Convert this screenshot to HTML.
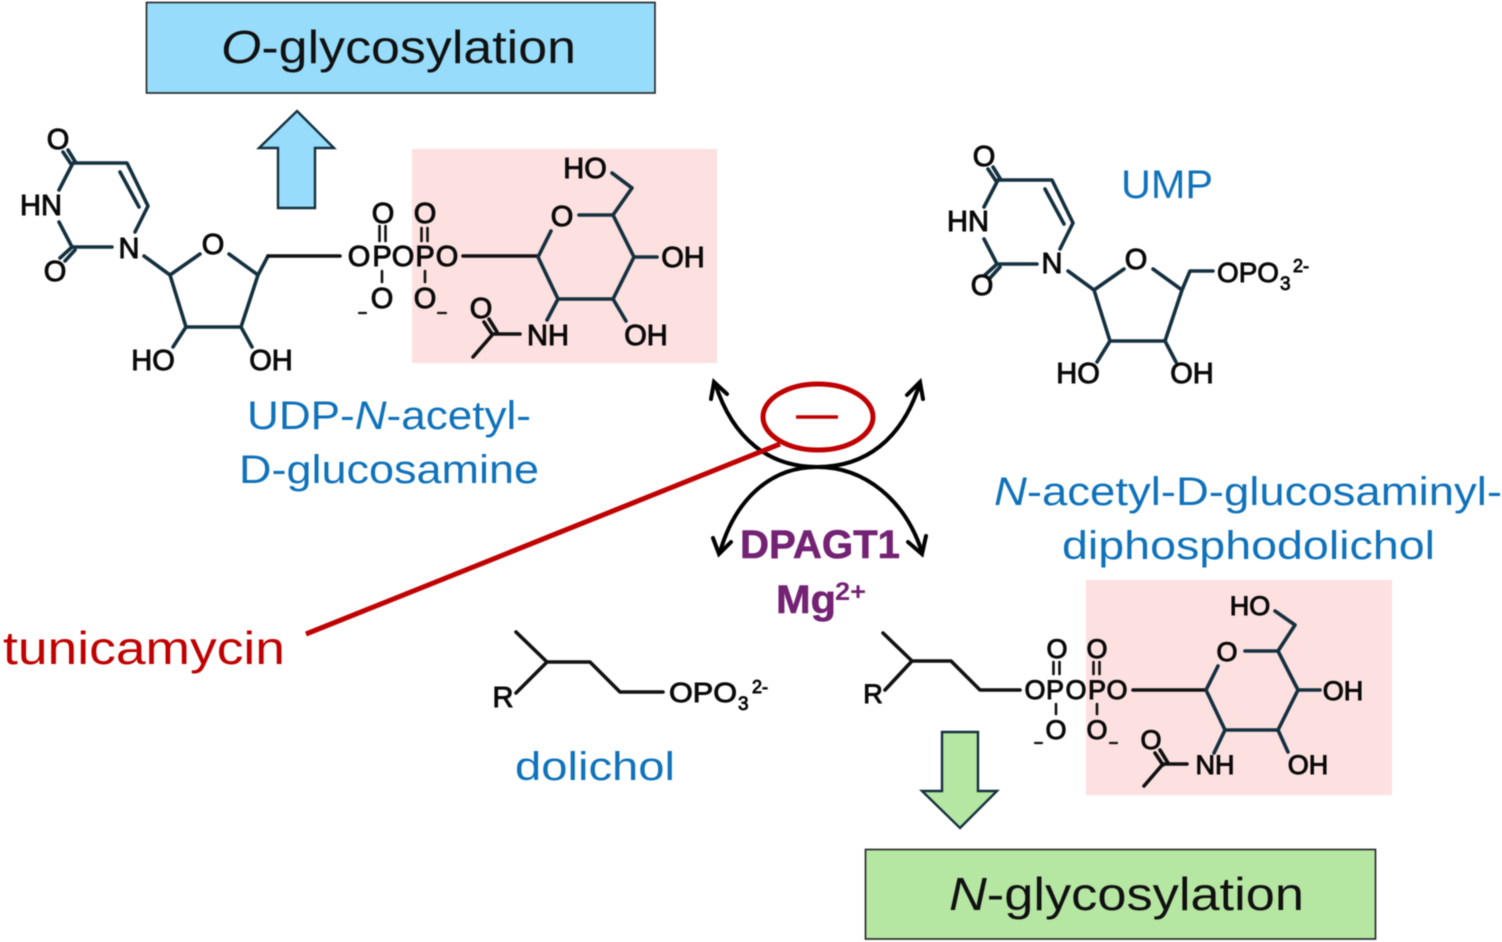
<!DOCTYPE html>
<html>
<head>
<meta charset="utf-8">
<style>
html,body{margin:0;padding:0;background:#fff;width:1502px;height:942px;overflow:hidden}
svg{display:block;filter:blur(.45px)}
text{font-family:"Liberation Sans",sans-serif}
.b{fill:none;stroke:#14303f;stroke-width:3.6;stroke-linecap:round;stroke-linejoin:round}
.k{fill:none;stroke:#111;stroke-width:3.6;stroke-linecap:round;stroke-linejoin:round}
.a{fill:#0a0a0a;stroke:#0a0a0a;stroke-width:1;font-size:29px;text-anchor:middle}
.s{fill:#0a0a0a;stroke:#0a0a0a;stroke-width:.9;font-size:28px}
.l{fill:#0f72ba;font-size:40px}
.t{fill:#111;font-size:46px}
</style>
</head>
<body>
<svg width="1502" height="942" viewBox="0 0 1502 942" xmlns="http://www.w3.org/2000/svg">
<rect x="412" y="149" width="305" height="214" fill="#fde0e0"/>
<rect x="1086" y="580" width="306" height="215" fill="#fde0e0"/>

<rect x="146.500" y="2.500" width="508.500" height="90.500" fill="#97dcfb" stroke="#222" stroke-width="1.600"/>
<text class="t" x="221" y="63" textLength="355" lengthAdjust="spacingAndGlyphs"><tspan font-style="italic">O</tspan>-glycosylation</text>
<rect x="865.500" y="849.500" width="510" height="89.500" fill="#b5e6a2" stroke="#222" stroke-width="1.600"/>
<text class="t" x="949" y="910" textLength="355" lengthAdjust="spacingAndGlyphs"><tspan font-style="italic">N</tspan>-glycosylation</text>

<polygon points="297,111 334,148 315,148 315,208 278,208 278,148 259,148" fill="#97dcfb" stroke="#14303f" stroke-width="2.400" stroke-linejoin="miter"/>
<polygon points="960,828 997,791 978,791 978,732 942,732 942,791 922,791" fill="#b5e6a2" stroke="#14303f" stroke-width="2.400" stroke-linejoin="miter"/>

<!-- UDP-GlcNAc uracil -->
<path class="b" d="M59 190L73 163H127L148 206L135 232M120 172L139 207M112 247H72L59 222M63 152L71 164M68 150L76 163M72 247L60 258M75 250L65 261"/>
<text class="a" x="58" y="149">O</text>
<text class="a" x="41" y="215">HN</text>
<text class="a" x="129" y="258">N</text>
<text class="a" x="55" y="281">O</text>
<!-- ribose -->
<path class="b" d="M144 256L170 275L200 254M229 254L258 275L241 327H186L170 275M186 327L173 347M241 327L252 347M258 275L268 256"/>
<path class="k" d="M268 256H340"/>
<text class="a" x="213" y="254">O</text>
<text class="a" x="153" y="370">HO</text>
<text class="a" x="271" y="370">OH</text>
<!-- diphosphate -->
<text class="a" x="359" y="266">O</text>
<text class="a" x="382" y="266">P</text>
<text class="a" x="403" y="266">O</text>
<text class="a" x="425" y="266">P</text>
<text class="a" x="447" y="266">O</text>
<text class="a" x="383" y="223">O</text>
<text class="a" x="425" y="223">O</text>
<text class="a" x="382" y="308">O</text>
<text class="a" x="425" y="308">O</text>
<path class="k" d="M379.500 226V241M385.500 226V241M421.500 228V241M427.500 228V241M382 271V282M425 271V282" style="stroke-width:2.600"/>
<path class="k" style="stroke-width:2.200" d="M359 313H366M438 313H446"/>
<!-- GlcNAc top -->
<path class="k" d="M463 256H538"/>
<path class="b" d="M538 257L551 231M579 215H613L634 257L613 299H558L538 257M613 215L632 188L612 173M634 257H657M613 299L626 321M558 299L547 320"/>
<path class="k" d="M520 334H493L473 357M484 322L492 334M489 319L497 332"/>
<text class="a" x="562" y="226">O</text>
<text class="a" x="585" y="178">HO</text>
<text class="a" x="683" y="267">OH</text>
<text class="a" x="646" y="345">OH</text>
<text class="a" x="548" y="345">NH</text>
<text class="a" x="481" y="318">O</text>

<!-- UMP -->
<g transform="translate(925,17)">
<path class="b" d="M59 190L73 163H127L148 206L135 232M120 172L139 207M112 247H72L59 222M63 152L71 164M68 150L76 163M72 247L60 258M75 250L65 261"/>
<text class="a" x="59" y="149">O</text>
<text class="a" x="43" y="214">HN</text>
<text class="a" x="127" y="256">N</text>
<text class="a" x="57" y="278">O</text>
</g>
<g transform="translate(924,15)">
<path class="b" d="M144 256L170 275L200 254M229 254L258 275L241 326H186L170 275M186 326L173 347M241 326L252 347M258 275L266 256H289"/>
<text class="a" x="212" y="254">O</text>
<text class="a" x="154" y="368">HO</text>
<text class="a" x="268" y="368">OH</text>
</g>
<text class="s" x="1217" y="282" textLength="62" lengthAdjust="spacingAndGlyphs">OPO</text>
<text class="s" x="1280" y="290" style="font-size:19px">3</text>
<text class="s" x="1293" y="272" style="font-size:18px">2-</text>
<text class="l" x="1121" y="198" textLength="92" lengthAdjust="spacingAndGlyphs">UMP</text>

<!-- Labels -->
<text class="l" x="247" y="429" textLength="284" lengthAdjust="spacingAndGlyphs">UDP-<tspan font-style="italic">N</tspan>-acetyl-</text>
<text class="l" x="239" y="483" textLength="300" lengthAdjust="spacingAndGlyphs">D-glucosamine</text>
<text class="l" x="994" y="505" textLength="508" lengthAdjust="spacingAndGlyphs"><tspan font-style="italic">N</tspan>-acetyl-D-glucosaminyl-</text>
<text class="l" x="1062" y="559" textLength="373" lengthAdjust="spacingAndGlyphs">diphosphodolichol</text>
<text class="l" x="515" y="780" textLength="160" lengthAdjust="spacingAndGlyphs">dolichol</text>
<text x="3" y="664" fill="#c00000" font-size="46" textLength="282" lengthAdjust="spacingAndGlyphs">tunicamycin</text>

<!-- Enzyme crossing arcs -->
<path d="M715 383C733 440 770 467 817 467C865 467 902 440 920 383" fill="none" stroke="#000" stroke-width="4"/>
<path d="M720 552C735 500 770 467 817 467C865 467 905 500 922 552" fill="none" stroke="#000" stroke-width="4"/>
<path d="M711 399L714 382L727 394M907 395L920 382L923 399M713 538L719 554L731 542M908 542L922 554L926 536" fill="none" stroke="#000" stroke-width="4" stroke-linecap="round" stroke-linejoin="miter"/>

<!-- Inhibition -->
<line x1="306" y1="634" x2="780" y2="444" stroke="#c00000" stroke-width="5"/>
<ellipse cx="818" cy="417" rx="55" ry="33" fill="none" stroke="#c00000" stroke-width="5"/>
<line x1="796" y1="417" x2="838" y2="417" stroke="#c00000" stroke-width="3.600"/>

<text x="740" y="558" fill="#742274" stroke="#742274" stroke-width=".6" font-size="40" font-weight="bold" textLength="160" lengthAdjust="spacingAndGlyphs">DPAGT1</text>
<text x="776" y="613" fill="#742274" stroke="#742274" stroke-width=".6" font-size="40" font-weight="bold" textLength="60" lengthAdjust="spacingAndGlyphs">Mg</text>
<text x="835" y="600" fill="#742274" font-size="25" font-weight="bold" textLength="31" lengthAdjust="spacingAndGlyphs">2+</text>

<!-- dolichol phosphate -->
<path class="k" d="M516 632L547 662M516 693L547 662H590L620 692H663"/>
<text class="a" x="503" y="707">R</text>
<text class="s" x="669" y="702" textLength="68" lengthAdjust="spacingAndGlyphs">OPO</text>
<text class="s" x="738" y="710" style="font-size:19px">3</text>
<text class="s" x="752" y="693" style="font-size:18px">2-</text>

<!-- bottom right conjugate -->
<path class="k" d="M883 633L912 661M885 690L912 661H951L980 690H1020"/>
<text class="a" x="873" y="703" style="font-size:27px">R</text>
<text class="a" x="1035" y="699" style="font-size:27px">O</text>
<text class="a" x="1055" y="699" style="font-size:27px">P</text>
<text class="a" x="1076" y="699" style="font-size:27px">O</text>
<text class="a" x="1097" y="699" style="font-size:27px">P</text>
<text class="a" x="1117" y="699" style="font-size:27px">O</text>
<text class="a" x="1057" y="658" style="font-size:27px">O</text>
<text class="a" x="1097" y="658" style="font-size:27px">O</text>
<text class="a" x="1056" y="739" style="font-size:27px">O</text>
<text class="a" x="1097" y="739" style="font-size:27px">O</text>
<path class="k" d="M1053.500 662V674M1059.500 662V674M1093.500 662V674M1099.500 662V674M1056 704V714M1097 704V714" style="stroke-width:2.600"/>
<path class="k" style="stroke-width:2.200" d="M1035 743H1042M1110 743H1117"/>
<path class="k" d="M1133 690H1206"/>
<path class="b" d="M1206 690L1218 666M1245 651H1278L1298 690L1278 730H1225L1206 690M1278 651L1295 625L1275 611M1298 690H1320M1278 730L1288 752M1225 730L1214 753"/>
<path class="k" d="M1187 764H1163L1144 786M1155 753L1163 765M1160 750L1168 763"/>
<text class="a" x="1227" y="661" style="font-size:27px">O</text>
<text class="a" x="1250" y="615" style="font-size:27px">HO</text>
<text class="a" x="1343" y="700" style="font-size:27px">OH</text>
<text class="a" x="1308" y="774" style="font-size:27px">OH</text>
<text class="a" x="1215" y="774" style="font-size:27px">NH</text>
<text class="a" x="1151" y="749" style="font-size:27px">O</text>
</svg>
</body>
</html>
